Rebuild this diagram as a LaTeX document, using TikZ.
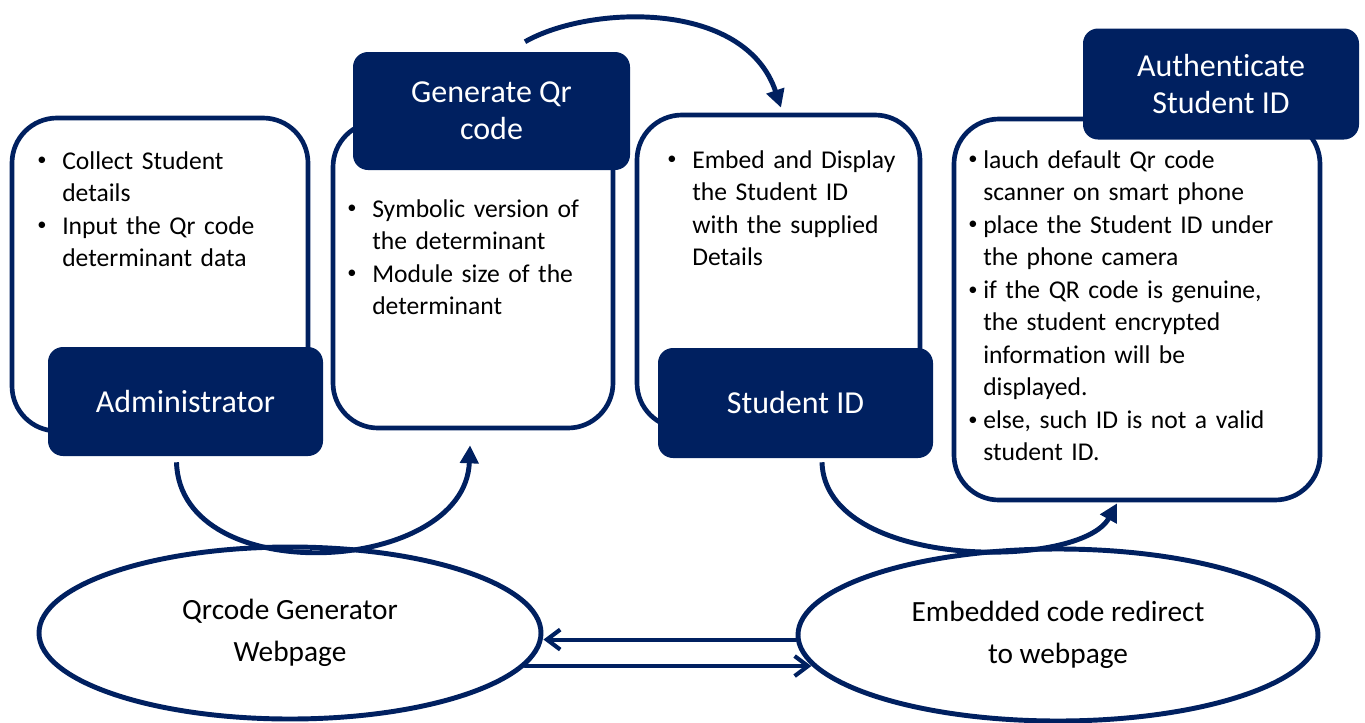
\documentclass[tikz,border=0pt]{standalone}
\usepackage{fontspec}
\setmainfont{Carlito}[Ligatures=NoCommon]
\usetikzlibrary{arrows.meta,shapes.geometric,calc}
\definecolor{navy}{HTML}{002060}
\newlength\px \setlength\px{0.75pt}
\newcommand\qbul[1][25]{\makebox[#1\px][l]{\raisebox{0.12em}{\scalebox{0.72}{\textbullet}}}}
\newcommand\qind[1][25]{\hspace*{#1\px}}
\begin{document}
\begin{tikzpicture}[x=0.75pt,y=-0.75pt,
 panel/.style={draw=navy, line width=3.5pt, fill=white, rounded corners=45\px, inner sep=0pt},
 tag/.style={fill=navy, rounded corners=15\px, text=white, font=\fontsize{24}{28}\selectfont, align=center, inner sep=0pt},
 bodytext/.style={anchor=base west, inner sep=0pt, align=left, text width=330\px, font=\fontsize{19.2}{24.4}\selectfont},
 oval/.style={ellipse, draw=navy, line width=3.7pt, fill=white, align=center, font=\fontsize{22}{31.5}\selectfont, inner sep=0pt},
 flow/.style={draw=navy, line width=3.7pt, -{Triangle[width=13.5pt,length=13.5pt]}},
 link/.style={draw=navy, line width=3.1pt, line cap=round, -{Straight Barb[length=10pt,width=15pt]}}
]
\useasboundingbox (0,0) rectangle (1365,722);
% panels
\node[panel, minimum width=296\px, minimum height=313\px] (p1) at (160,274.5) {};
\node[panel, minimum width=280\px, minimum height=306\px] (p2) at (473,275) {};
\node[panel, minimum width=283\px, minimum height=313\px] (p3) at (778.5,271.5) {};
\node[panel, minimum width=366\px, minimum height=381\px] (p4) at (1137,309.5) {};
% body texts
\node[bodytext] (t1) at (37,169) {\qbul Collect Student\\\qind details\\\qbul Input the Qr code\\\qind determinant data};
\node[bodytext] (t2) at (347,217) {\qbul Symbolic version of\\\qind the determinant\\\qbul Module size of the\\\qind determinant};
\node[bodytext] (t3) at (667,168) {\qbul Embed and Display\\\qind the Student ID\\\qind with the supplied\\\qind Details};
\node[bodytext] (t4) at (968,168) {\qbul[15]lauch default Qr code\\\qind[15]scanner on smart phone\\\qbul[15]place the Student ID under\\\qind[15]the phone camera\\\qbul[15]if the QR code is genuine,\\\qind[15]the student encrypted\\\qind[15]information will be\\\qind[15]displayed.\\\qbul[15]else, such ID is not a valid\\\qind[15]student ID.};
% tags
\node[tag, minimum width=275\px, minimum height=109\px] (admin) at (185.5,401.5) {Administrator};
\node[tag, minimum width=277\px, minimum height=118\px] (gen) at (491.5,111) {Generate Qr\\code};
\node[tag, minimum width=275\px, minimum height=110\px] (sid) at (795.5,403) {Student ID};
\node[tag, minimum width=276\px, minimum height=111\px] (auth) at (1221,84) {Authenticate\\Student ID};
% ovals
\node[oval, minimum width=502\px, minimum height=172\px] (web) at (290,633) {Qrcode Generator\\Webpage};
\node[oval, minimum width=520\px, minimum height=172\px] (redir) at (1058,635) {Embedded code redirect\\to webpage};
% curved arrows
\draw[flow] ($(admin.south)+(-9,6)$) .. controls ($(admin.south)+(-5.5,134)$) and ($(p2.south)+(-8,145)$) .. ($(p2.south)+(-3,15)$);
\draw[flow] ($(gen.north)+(33.5,-10)$) .. controls ($(gen.north)+(98.5,-47)$) and ($(p3.north)+(-33.5,-113)$) .. ($(p3.north)+(2.5,-5)$);
\draw[flow] ($(sid.south)+(26.5,4)$) .. controls ($(sid.south)+(29.5,112)$) and ($(p4.south)+(-57,68)$) .. ($(p4.south)+(-20,1)$);
% straight arrows
\draw[link] (redir.181.5) -- (redir.181.5 -| web.east);
\draw[link] (web.-8.4) -- (web.-8.4 -| redir.187.5);
\end{tikzpicture}
\end{document}
